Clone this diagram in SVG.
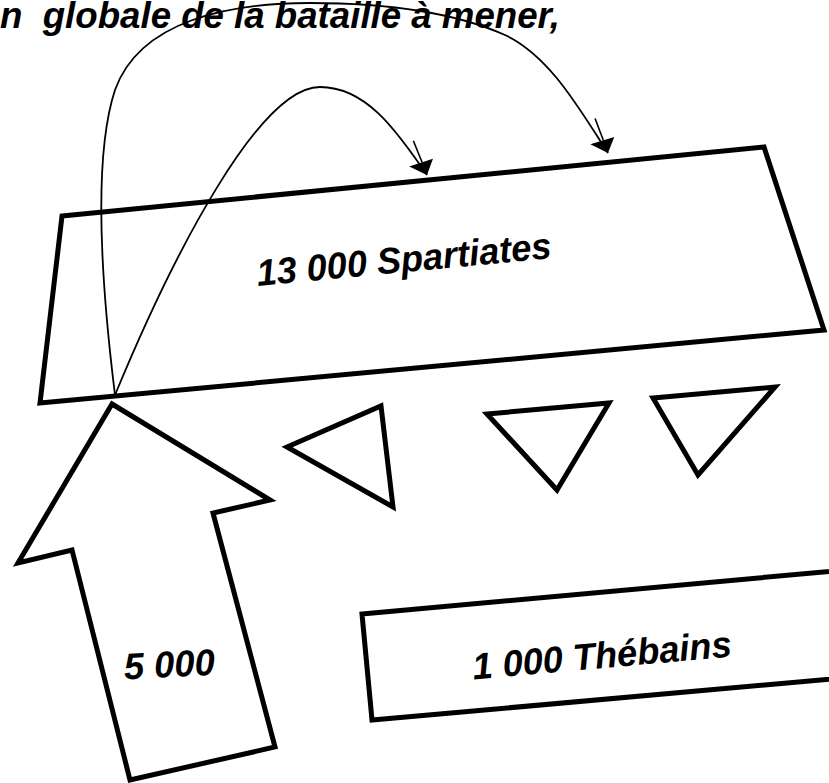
<svg xmlns="http://www.w3.org/2000/svg" width="829" height="783" viewBox="0 0 829 783">
<defs>
<style>
.shape{fill:#fff;stroke:#000;stroke-width:5;stroke-linejoin:miter;stroke-miterlimit:10}
.lbl{font-family:"Liberation Sans",Arial,sans-serif;font-weight:bold;font-style:italic;font-size:37px;fill:#000}
.conn{fill:none;stroke:#000;stroke-width:1.8}
</style>
<marker id="arr" markerUnits="userSpaceOnUse" viewBox="-40 -20 45 40" refX="0" refY="0" markerWidth="45" markerHeight="40" orient="auto" overflow="visible">
<path d="M0,0 L-17,10 L-10,-14 Z" fill="#000"/>
<path d="M-36,-8 L-13,-3" stroke="#000" stroke-width="1.6" fill="none"/>
</marker>
</defs>
<rect width="829" height="783" fill="#fff"/>
<text class="lbl" x="0" y="28" xml:space="preserve" textLength="560" lengthAdjust="spacingAndGlyphs">n  globale de la bataille à mener,</text>
<g id="spartiates">
<polygon class="shape" points="62,216 764,147 824,330 40,403"/>
<text class="lbl" x="405" y="272" text-anchor="middle" textLength="296" lengthAdjust="spacingAndGlyphs" transform="rotate(-5.4 405 272)">13 000 Spartiates</text>
</g>
<g id="arrow5000">
<polygon class="shape" points="112,404 270,500 213,513 275,747 130,780 72,550 18,563"/>
<text class="lbl" x="170" y="677" text-anchor="middle" textLength="91" lengthAdjust="spacingAndGlyphs" transform="rotate(-3 170 677)">5 000</text>
</g>
<g id="tri1"><polygon class="shape" points="287,447 381,406 393,507"/></g>
<g id="tri2"><polygon class="shape" points="487,414 609,403 557,490"/></g>
<g id="tri3"><polygon class="shape" points="653,398 775,387 698,475"/></g>
<g id="thebains">
<polygon class="shape" points="362,614 900,565 910,672 372,720"/>
<text class="lbl" x="603" y="668" text-anchor="middle" textLength="260" lengthAdjust="spacingAndGlyphs" transform="rotate(-5.1 603 668)">1 000 Thébains</text>
</g>
<g id="connectors">
<path class="conn" d="M115,395 C102,290 92,160 115,90 C140,20 230,3 310,3 C400,3 460,15 505,35 C550,56 580,110 608,153" marker-end="url(#arr)"/>
<path class="conn" d="M115,395 C175,250 260,87 320,87 C365,87 395,128 427,175" marker-end="url(#arr)"/>
</g>
</svg>
